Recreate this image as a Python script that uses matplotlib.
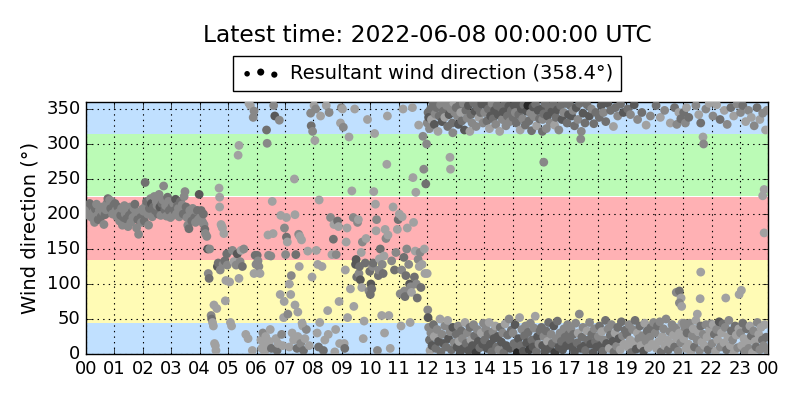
import numpy as np
import matplotlib
matplotlib.use("Agg")
import matplotlib.pyplot as plt

# --- data (hours since 00 UTC, direction in deg, grey shade 0-10) ---
# 00-04 : steady south-westerly
time_early = [0.02, 0.05, 0.08, 0.10, 0.13, 0.17, 0.20, 0.23, 0.27, 0.30, 0.33, 0.37, 0.40, 0.43, 0.47,
              0.50, 0.53, 0.57, 0.60, 0.63, 0.67, 0.70, 0.73, 0.77, 0.80, 0.83, 0.87, 0.90, 0.93, 0.97,
              1.02, 1.05, 1.08, 1.12, 1.15, 1.18, 1.22, 1.25, 1.28, 1.32, 1.35, 1.38, 1.42, 1.45, 1.48,
              1.52, 1.55, 1.58, 1.62, 1.65, 1.68, 1.72, 1.75, 1.78, 1.82, 1.85, 1.88, 1.92, 1.95, 1.98,
              2.02, 2.05, 2.08, 2.10, 2.13, 2.17, 2.20, 2.23, 2.27, 2.30, 2.33, 2.37, 2.40, 2.43, 2.47,
              2.50, 2.53, 2.57, 2.60, 2.63, 2.67, 2.70, 2.73, 2.77, 2.80, 2.83, 2.87, 2.90, 2.93, 2.97,
              3.02, 3.05, 3.08, 3.12, 3.15, 3.18, 3.22, 3.25, 3.28, 3.32, 3.35, 3.38, 3.42, 3.45, 3.48,
              3.52, 3.55, 3.58, 3.62, 3.65, 3.68, 3.72, 3.75, 3.78, 3.82, 3.85, 3.88, 3.92, 3.95, 3.98]
dir_early = [205, 212, 198, 208, 215, 200, 195, 210, 203, 188, 207, 214, 198, 192, 205,
             200, 196, 210, 203, 185, 199, 206, 215, 222, 212, 220, 208, 218, 200, 212,
             215, 205, 196, 210, 202, 190, 198, 208, 184, 195, 212, 200, 193, 205, 182,
             198, 210, 188, 203, 195, 208, 214, 200, 180, 192, 171, 202, 195, 188, 207,
             204, 190, 245, 212, 218, 200, 184, 208, 222, 215, 196, 210, 225, 205, 218,
             212, 200, 228, 210, 198, 215, 220, 240, 206, 212, 197, 224, 218, 205, 195,
             210, 198, 215, 205, 221, 200, 212, 208, 196, 218, 205, 213, 200, 225, 232,
             210, 195, 184, 179, 205, 198, 190, 208, 200, 195, 188, 205, 205, 192, 228]
shade_early = [5, 4, 5, 5, 4, 5, 5, 4, 5, 5, 4, 5, 5, 4, 5, 5, 4, 5, 5, 5, 4, 5, 5, 4, 5, 5, 4, 5, 5, 4,
               4, 5, 5, 4, 5, 5, 4, 5, 5, 4, 5, 5, 4, 5, 5, 4, 5, 5, 4, 5, 5, 4, 5, 5, 4, 5, 5, 4, 5, 5,
               5, 4, 4, 5, 4, 5, 5, 4, 5, 3, 5, 4, 5, 4, 5, 5, 4, 5, 3, 5, 4, 5, 5, 4, 5, 5, 4, 5, 4, 5,
               4, 5, 5, 4, 3, 5, 4, 5, 5, 4, 5, 5, 4, 5, 5, 4, 5, 5, 4, 5, 5, 4, 5, 5, 4, 5, 5, 4, 5, 3]

# 04-12 : variable
time_mid = [4.02, 4.05, 4.08, 4.10, 4.13, 4.15, 4.18, 4.20, 4.25, 4.28, 4.30, 4.33, 4.35, 4.40, 4.42,
            4.45, 4.48, 4.50, 4.52, 4.55, 4.57, 4.60, 4.62, 4.65, 4.68, 4.70, 4.70, 4.72, 4.75, 4.78,
            4.80, 4.82, 4.85, 4.88, 4.90, 4.92, 4.95, 4.97,
            5.05, 5.08, 5.12, 5.15, 5.20, 5.28, 5.32, 5.35, 5.38, 5.38, 5.42, 5.45, 5.50, 5.55, 5.62,
            5.70, 5.73, 5.78, 5.85, 5.88, 5.91, 5.91, 5.95, 5.98,
            6.02, 6.05, 6.08, 6.12, 6.15, 6.18, 6.22, 6.25, 6.28, 6.32, 6.35, 6.37, 6.40, 6.42, 6.45,
            6.48, 6.50, 6.52, 6.55, 6.58, 6.60, 6.64, 6.68, 6.72, 6.75, 6.80, 6.83, 6.85, 6.88, 6.92,
            6.95, 6.97, 6.98,
            7.02, 7.05, 7.05, 7.08, 7.10, 7.15, 7.20, 7.22, 7.25, 7.30, 7.33, 7.35, 7.35, 7.38, 7.42,
            7.45, 7.48, 7.50, 7.52, 7.55, 7.58, 7.62, 7.65, 7.70, 7.75, 7.80, 7.85, 7.90, 7.92, 7.95,
            7.97, 7.15, 7.45, 7.60,
            8.02, 8.05, 8.08, 8.10, 8.13, 8.15, 8.18, 8.20, 8.22, 8.25, 8.30, 8.35, 8.40, 8.45, 8.50,
            8.52, 8.55, 8.60, 8.65, 8.70, 8.72, 8.75, 8.78, 8.80, 8.85, 8.88, 8.90, 8.92, 8.95, 8.98,
            9.02, 9.05, 9.08, 9.10, 9.12, 9.15, 9.18, 9.20, 9.25, 9.30, 9.35, 9.40, 9.42, 9.45, 9.48,
            9.50, 9.52, 9.55, 9.58, 9.60, 9.62, 9.65, 9.68, 9.70, 9.72, 9.75, 9.78, 9.82, 9.85, 9.90,
            9.95, 9.98,
            10.00, 10.02, 10.05, 10.08, 10.10, 10.12, 10.15, 10.18, 10.20, 10.22, 10.25, 10.28, 10.30,
            10.32, 10.35, 10.40, 10.42, 10.45, 10.48, 10.50, 10.52, 10.55, 10.58, 10.60, 10.62, 10.65,
            10.70, 10.75, 10.80, 10.85, 10.90, 10.95, 10.98,
            11.02, 11.05, 11.08, 11.10, 11.12, 11.15, 11.18, 11.20, 11.22, 11.25, 11.28, 11.30, 11.35,
            11.38, 11.40, 11.42, 11.45, 11.48, 11.50, 11.52, 11.55, 11.58, 11.60, 11.62, 11.65, 11.68,
            11.70, 11.72, 11.75, 11.78, 11.82, 11.85, 11.88, 11.90, 11.92, 11.95, 11.98]
dir_mid = [195, 205, 190, 188, 200, 185, 178, 172, 168, 150, 115, 108, 150, 55, 50,
           45, 40, 70, 15, 12, 5, 65, 125, 130, 237, 224, 210, 120, 185, 182,
           180, 128, 172, 133, 76, 105, 143, 127,
           103, 45, 40, 148, 132, 127, 143, 284, 298, 108, 132, 148, 125, 150, 28,
           22, 358, 355, 5, 338, 347, 115, 141, 128,
           141, 133, 125, 115, 20, 8, 30, 12, 3, 25, 320, 301, 170, 141, 18,
           35, 140, 8, 218, 172, 355, 340, 22, 5, 15, 334, 85, 198, 28, 12,
           52, 75, 180,
           142, 195, 167, 160, 57, 10, 85, 112, 30, 20, 250, 199, 70, 142, 8,
           25, 171, 125, 168, 15, 163, 40, 5, 22, 35, 147, 12, 344, 326, 110,
           318, 100, 60, 44,
           355, 305, 350, 148, 30, 128, 10, 220, 45, 340, 125, 5, 20, 355, 62,
           28, 345, 195, 142, 164, 185, 3, 35, 142, 190, 182, 75, 15, 330, 352,
           350, 324, 15, 8, 120, 160, 180, 52, 310, 93, 233, 195, 68, 350, 128,
           135, 110, 188, 192, 115, 125, 106, 145, 95, 160, 22, 47, 130, 165, 335,
           90, 118,
           85, 100, 93, 125, 130, 232, 315, 214, 176, 192, 5, 112, 120,
           136, 150, 55, 128, 115, 140, 30, 178, 165, 271, 340, 170, 55,
           8, 133, 210, 120, 145, 178, 192,
           200, 86, 40, 120, 196, 350, 138, 90, 82, 112, 150, 180, 128,
           100, 45, 96, 88, 352, 252, 188, 110, 147, 231, 100, 80, 135,
           327, 125, 145, 95, 128, 311, 264, 150, 115, 243, 300]
shade_mid = [5, 4, 5, 5, 4, 5, 4, 5, 5, 3, 5, 4, 5, 5, 4, 6, 6, 6, 6, 6, 6, 6, 3, 4, 6, 6, 6, 5, 6, 6,
             6, 5, 6, 4, 6, 6, 4, 5,
             6, 6, 6, 5, 6, 5, 3, 6, 6, 6, 5, 6, 4, 5, 6, 6, 6, 6, 6, 5, 5, 6, 4, 5,
             4, 5, 5, 6, 6, 6, 5, 6, 6, 6, 4, 5, 6, 5, 6, 6, 5, 4, 6, 6, 5, 3, 6, 4, 6, 5, 6, 6, 5, 6,
             6, 6, 5,
             5, 6, 4, 6, 5, 6, 6, 5, 6, 6, 6, 6, 6, 4, 4, 6, 5, 6, 6, 5, 6, 6, 4, 6, 5, 6, 6, 5, 4, 6,
             5, 6, 6, 6,
             6, 6, 5, 6, 6, 6, 4, 6, 6, 6, 6, 4, 6, 6, 6, 6, 5, 5, 6, 4, 6, 6, 6, 5, 4, 6, 6, 6, 6, 5,
             6, 5, 6, 4, 6, 6, 6, 6, 6, 6, 6, 5, 6, 6, 3, 3, 4, 5, 6, 5, 4, 3, 6, 6, 5, 6, 6, 4, 6, 6,
             5, 4,
             4, 3, 4, 5, 4, 6, 6, 6, 6, 5, 5, 4, 5, 6, 4, 6, 5, 4, 6, 6, 6, 5, 6, 6, 6, 6, 6, 5, 6, 4,
             5, 6, 4,
             6, 5, 6, 5, 6, 6, 4, 5, 4, 4, 5, 6, 5, 3, 6, 5, 6, 6, 6, 6, 4, 6, 6, 5, 4, 5, 6, 6, 5, 4,
             6, 5, 5, 6, 6, 4, 5]

# 12-24 : northerly, upper part of the wrap (plus strays)
time_upper = [12.00, 12.03, 12.05, 12.08, 12.12, 12.15, 12.20, 12.25, 12.28, 12.33, 12.38, 12.42, 12.47,
              12.52, 12.57, 12.62, 12.68, 12.72, 12.77, 12.83, 12.88, 12.93, 12.97, 12.80, 12.82, 12.90,
              13.02, 13.06, 13.10, 13.14, 13.18, 13.22, 13.27, 13.31, 13.36, 13.40, 13.45, 13.50, 13.54,
              13.58, 13.63, 13.68, 13.72, 13.77, 13.82, 13.87, 13.92, 13.96,
              14.02, 14.06, 14.10, 14.15, 14.19, 14.23, 14.28, 14.32, 14.37, 14.41, 14.46, 14.50, 14.55,
              14.59, 14.64, 14.68, 14.73, 14.77, 14.82, 14.87, 14.91, 14.96,
              15.02, 15.06, 15.10, 15.14, 15.18, 15.22, 15.27, 15.31, 15.36, 15.40, 15.45, 15.49, 15.54,
              15.58, 15.63, 15.67, 15.72, 15.76, 15.81, 15.85, 15.90, 15.95,
              16.02, 16.05, 16.06, 16.10, 16.10, 16.14, 16.19, 16.23, 16.28, 16.33, 16.38, 16.43, 16.48,
              16.53, 16.58, 16.63, 16.69, 16.74, 16.80, 16.86, 16.92, 16.97,
              17.03, 17.08, 17.13, 17.18, 17.24, 17.30, 17.36, 17.40, 17.42, 17.48, 17.55, 17.62, 17.70,
              17.78, 17.86, 17.93,
              18.05, 18.12, 18.20, 18.28, 18.35, 18.45, 18.55, 18.62, 18.70, 18.80, 18.90,
              19.05, 19.15, 19.28, 19.40, 19.55, 19.70, 19.85,
              20.05, 20.20, 20.35, 20.55, 20.70, 20.78, 20.85, 20.92, 20.76, 20.87, 20.93, 20.87, 20.95,
              21.02, 21.08, 21.12, 21.20, 21.45, 21.55, 21.62, 21.70, 21.72, 21.80, 21.92, 21.50, 21.60,
              21.62,
              22.05, 22.18, 22.30, 22.45, 22.55, 22.68, 22.78, 22.90, 22.50, 22.97,
              23.02, 23.10, 23.20, 23.30, 23.40, 23.50, 23.60, 23.70, 23.80, 23.90, 23.95, 23.85, 23.80,
              23.85, 23.05]
dir_upper = [330, 345, 338, 322, 350, 335, 358, 328, 343, 352, 318, 340, 356,
             332, 347, 338, 355, 325, 342, 350, 330, 359, 345, 281, 264, 316,
             352, 340, 328, 356, 345, 333, 358, 320, 348, 337, 355, 318, 342,
             330, 359, 347, 325, 352, 338, 345, 357, 330,
             345, 356, 333, 350, 322, 340, 358, 336, 348, 328, 355, 342, 318,
             352, 335, 346, 359, 326, 340, 354, 332, 348,
             338, 355, 345, 330, 359, 342, 320, 350, 336, 356, 327, 347, 355,
             333, 344, 319, 353, 339, 357, 326, 348, 336,
             350, 318, 335, 343, 274, 358, 322, 340, 352, 330, 346, 357, 327,
             338, 349, 320, 355, 335, 345, 358, 330, 342,
             355, 340, 348, 326, 352, 335, 358, 307, 318, 344, 330, 356, 340,
             350, 329, 345,
             338, 355, 345, 332, 358, 348, 325, 352, 340, 357, 345,
             350, 342, 356, 335, 345, 327, 340,
             355, 338, 348, 330, 352, 328, 345, 336, 88, 90, 80, 73, 68,
             345, 330, 352, 338, 355, 342, 330, 310, 300, 350, 358, 57, 79,
             117,
             340, 356, 335, 348, 328, 352, 340, 357, 80, 85,
             345, 355, 332, 348, 338, 326, 352, 335, 344, 320, 348, 235, 226,
             173, 91]
shade_upper = [5, 4, 3, 5, 4, 6, 4, 3, 5, 4, 6, 4, 5, 3, 4, 6, 5, 4, 3, 5, 4, 6, 5, 6, 6, 5,
               4, 5, 3, 4, 6, 4, 5, 3, 4, 5, 3, 6, 4, 5, 4, 3, 5, 4, 6, 4, 3, 5,
               5, 3, 4, 4, 6, 3, 5, 4, 3, 5, 4, 3, 6, 4, 5, 3, 4, 5, 4, 3, 5, 4,
               4, 3, 5, 4, 3, 4, 6, 3, 5, 4, 4, 3, 1, 4, 5, 4, 3, 5, 4, 6, 3, 4,
               3, 4, 5, 4, 5, 4, 5, 3, 4, 5, 3, 4, 6, 4, 3, 5, 4, 3, 5, 4, 4, 3,
               4, 3, 5, 4, 3, 5, 4, 5, 5, 3, 4, 4, 3, 5, 4, 4,
               4, 3, 5, 4, 3, 4, 6, 4, 5, 4, 3,
               4, 5, 3, 5, 4, 6, 5,
               4, 6, 5, 6, 4, 5, 6, 4, 5, 4, 6, 5, 6,
               4, 5, 6, 4, 5, 6, 4, 6, 5, 5, 6, 6, 6, 6,
               5, 6, 4, 6, 5, 4, 6, 5, 6, 6,
               5, 4, 6, 5, 6, 5, 4, 6, 5, 6, 5, 6, 6, 6, 6]

# 12-24 : northerly, lower part of the wrap
time_lower = [12.00, 12.02, 12.03, 12.05, 12.08, 12.10, 12.13, 12.17, 12.22, 12.25, 12.30, 12.35, 12.40,
              12.45, 12.48, 12.52, 12.57, 12.62, 12.67, 12.72, 12.75, 12.80, 12.85, 12.90, 12.95,
              13.02, 13.05, 13.09, 13.12, 13.16, 13.20, 13.24, 13.28, 13.33, 13.37, 13.41, 13.46, 13.50,
              13.54, 13.59, 13.63, 13.67, 13.72, 13.76, 13.80, 13.85, 13.90, 13.95, 13.98,
              14.02, 14.06, 14.10, 14.14, 14.18, 14.22, 14.27, 14.31, 14.35, 14.40, 14.44, 14.48, 14.52,
              14.57, 14.61, 14.66, 14.70, 14.74, 14.78, 14.83, 14.88, 14.92, 14.96,
              15.02, 15.05, 15.09, 15.13, 15.17, 15.21, 15.25, 15.27, 15.29, 15.33, 15.38, 15.42, 15.46,
              15.50, 15.55, 15.59, 15.63, 15.68, 15.72, 15.76, 15.80, 15.84, 15.88, 15.93, 15.97,
              16.02, 16.06, 16.10, 16.14, 16.18, 16.23, 16.27, 16.31, 16.36, 16.40, 16.45, 16.49, 16.54,
              16.58, 16.63, 16.67, 16.72, 16.76, 16.81, 16.85, 16.90, 16.94, 16.98,
              17.02, 17.06, 17.10, 17.14, 17.18, 17.22, 17.27, 17.31, 17.35, 17.40, 17.44, 17.48, 17.53,
              17.57, 17.62, 17.66, 17.71, 17.75, 17.79, 17.84, 17.88, 17.92, 17.96,
              18.02, 18.06, 18.10, 18.14, 18.18, 18.23, 18.27, 18.31, 18.36, 18.40, 18.44, 18.48, 18.53,
              18.57, 18.61, 18.66, 18.70, 18.74, 18.79, 18.83, 18.87, 18.92, 18.96,
              19.02, 19.06, 19.10, 19.14, 19.18, 19.22, 19.27, 19.31, 19.35, 19.39, 19.44, 19.48, 19.52,
              19.57, 19.61, 19.65, 19.70, 19.74, 19.78, 19.83, 19.87, 19.91, 19.96,
              20.02, 20.06, 20.10, 20.14, 20.18, 20.23, 20.27, 20.31, 20.35, 20.40, 20.44, 20.48, 20.53,
              20.57, 20.61, 20.66, 20.70, 20.74, 20.78, 20.83, 20.87, 20.92, 20.96, 21.03,
              21.02, 21.06, 21.10, 21.14, 21.19, 21.23, 21.27, 21.32, 21.36, 21.40, 21.45, 21.49, 21.53,
              21.58, 21.62, 21.66, 21.71, 21.75, 21.80, 21.84, 21.88, 21.93, 21.97,
              22.02, 22.06, 22.10, 22.14, 22.18, 22.22, 22.27, 22.31, 22.35, 22.40, 22.44, 22.48, 22.53,
              22.57, 22.61, 22.66, 22.70, 22.74, 22.79, 22.83, 22.87, 22.92, 22.96,
              23.02, 23.06, 23.10, 23.14, 23.18, 23.23, 23.27, 23.31, 23.35, 23.40, 23.44, 23.48, 23.53,
              23.57, 23.61, 23.66, 23.70, 23.74, 23.79, 23.83, 23.87, 23.92, 23.96]
dir_lower = [115, 63, 52, 38, 20, 5, 30, 12, 42, 25, 8, 35, 18,
             50, 3, 28, 15, 40, 10, 48, 22, 32, 6, 38, 16,
             28, 10, 40, 18, 3, 33, 22, 8, 45, 15, 30, 5, 38,
             20, 12, 42, 26, 2, 35, 18, 9, 30, 14, 44,
             20, 36, 8, 28, 45, 14, 3, 32, 22, 40, 10, 25, 6,
             38, 17, 30, 2, 43, 12, 27, 50, 8, 34,
             30, 15, 42, 8, 2, 22, 52, 1, 12, 35, 4, 26, 40,
             16, 31, 6, 44, 20, 10, 37, 54, 3, 25, 14, 33,
             38, 12, 25, 4, 33, 18, 45, 8, 28, 15, 40, 2, 22,
             47, 10, 30, 18, 6, 36, 24, 12, 42, 28,
             20, 35, 10, 28, 3, 44, 16, 30, 57, 8, 24, 38, 12,
             5, 33, 20, 45, 14, 28, 2, 36, 18, 10,
             25, 40, 12, 32, 4, 20, 48, 15, 36, 8, 27, 42, 18,
             3, 30, 11, 38, 22, 6, 46, 26, 14, 34,
             28, 10, 42, 20, 2, 35, 16, 48, 7, 30, 22, 40, 12,
             26, 4, 44, 18, 33, 9, 24, 38, 14, 45,
             30, 8, 40, 18, 46, 3, 25, 36, 12, 50, 20, 6, 32,
             15, 42, 27, 10, 37, 22, 4, 30, 16, 44, 44,
             22, 38, 8, 30, 14, 44, 3, 26, 36, 10, 48, 20, 32,
             5, 40, 17, 28, 12, 42, 24, 6, 34, 43,
             15, 42, 28, 4, 35, 20, 46, 10, 30, 43, 16, 38, 6,
             25, 48, 12, 33, 20, 2, 40, 27, 9, 36,
             30, 12, 44, 22, 4, 36, 16, 8, 40, 26, 2, 33, 18,
             10, 45, 28, 6, 38, 20, 12, 42, 24, 5]
shade_lower = [6, 5, 3, 5, 4, 6, 5, 3, 4, 6, 4, 5, 3, 6, 4, 5, 3, 5, 4, 6, 3, 5, 4, 3, 5,
               4, 3, 5, 6, 3, 4, 5, 3, 6, 4, 5, 3, 4, 6, 3, 5, 4, 2, 5, 3, 4, 6, 3, 5,
               4, 5, 3, 4, 6, 3, 4, 5, 3, 6, 4, 3, 5, 4, 3, 5, 4, 6, 3, 4, 5, 3, 4,
               5, 4, 3, 4, 1, 3, 6, 1, 4, 5, 3, 4, 5, 3, 4, 2, 5, 4, 3, 5, 6, 4, 3, 5, 4,
               4, 3, 5, 3, 4, 6, 4, 3, 5, 4, 3, 2, 5, 4, 3, 5, 4, 3, 5, 4, 3, 5, 4,
               4, 5, 3, 4, 3, 5, 4, 6, 5, 3, 4, 5, 3, 4, 6, 4, 5, 3, 4, 3, 5, 4, 3,
               5, 4, 3, 6, 4, 5, 4, 3, 5, 6, 4, 5, 3, 4, 6, 5, 4, 3, 6, 4, 5, 6, 4,
               4, 6, 5, 6, 4, 5, 6, 4, 3, 6, 5, 4, 6, 5, 3, 6, 5, 4, 6, 5, 4, 6, 5,
               5, 6, 4, 6, 5, 4, 6, 5, 6, 5, 6, 4, 5, 6, 5, 6, 4, 5, 6, 5, 6, 5, 6, 5,
               6, 5, 6, 4, 6, 5, 6, 5, 6, 4, 6, 5, 6, 5, 4, 6, 5, 6, 5, 6, 4, 6, 5,
               5, 6, 4, 6, 5, 6, 3, 5, 6, 4, 6, 5, 4, 6, 5, 6, 4, 5, 6, 4, 6, 5, 6,
               5, 6, 4, 6, 5, 4, 6, 5, 6, 4, 6, 5, 6, 4, 5, 6, 5, 6, 4, 5, 6, 4, 5]

hour_labels = ["%02d" % (h % 24) for h in range(25)]
sectors = [(0, 45, "#c0e0ff"), (45, 135, "#fffbb5"), (135, 225, "#ffb1b4"),
           (225, 315, "#bbfbb6"), (315, 360, "#c0e0ff")]
latest_dir = 358.4

hours = np.array(time_early + time_mid + time_upper + time_lower)
wdir = np.array(dir_early + dir_mid + dir_upper + dir_lower)
shade = np.array(shade_early + shade_mid + shade_upper + shade_lower)
grey = 0.06 + shade * 0.095

plt.style.use("classic")
fig = plt.figure(figsize=(8, 4), dpi=100, facecolor="white")
ax = fig.add_axes([0.1075, 0.115, 0.853, 0.63])

for lo, hi, col in sectors:
    ax.axhspan(lo, hi, color=col, lw=0, zorder=0)

ax.scatter(hours, wdir, c=grey, cmap="gray", vmin=0, vmax=1, s=40,
           edgecolors="none", zorder=3,
           label="Resultant wind direction (%.1f°)" % latest_dir)

ax.set_xlim(0, 24)
ax.set_ylim(0, 360)
ax.set_xticks(range(25))
ax.set_xticklabels(hour_labels)
ax.set_yticks(range(0, 351, 50))
ax.tick_params(labelsize=13)
ax.grid(True, color="k", linestyle=":", linewidth=0.8, zorder=1)
ax.set_axisbelow(False)
ax.set_ylabel("Wind direction (°)", fontsize=14)

leg = ax.legend(loc="lower center", bbox_to_anchor=(0.5, 1.045), scatterpoints=3,
                fontsize=14, borderaxespad=0, handletextpad=0.5)
h = leg.legend_handles[0]
h.set_facecolor("k")
h.set_array(None)
h.set_sizes([16, 26, 20])

fig.text(0.534, 0.9125, "Latest time: 2022-06-08 00:00:00 UTC", ha="center",
         va="center", fontsize=16.8)

fig.savefig("out.png", dpi=100, facecolor="white")
